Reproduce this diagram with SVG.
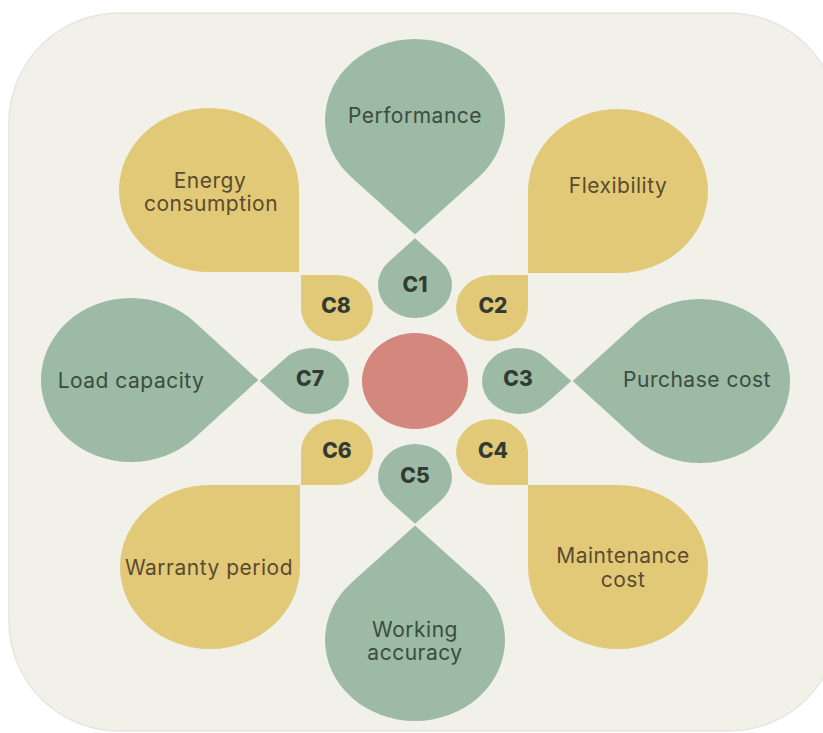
<svg xmlns="http://www.w3.org/2000/svg" width="823" height="733" viewBox="0 0 823 733">
<style>
.g{fill:#9cbaa4}
.y{fill:#e2c977}
.lg{font-family:Inter,"Liberation Sans",sans-serif;font-size:21px;letter-spacing:0.5px;fill:#3b4c41;text-anchor:middle}
.ly{font-family:Inter,"Liberation Sans",sans-serif;font-size:21px;letter-spacing:0.5px;fill:#5a4b2e;text-anchor:middle}
.c{font-family:Inter,"Liberation Sans",sans-serif;font-size:21px;font-weight:800;fill:#333a33;text-anchor:middle}
</style>
<rect width="823" height="733" fill="#ffffff"/>
<rect x="9" y="13" width="830" height="718" rx="110" ry="110" fill="#f1f1ea" stroke="#e6e6de" stroke-width="1.5"/>
<g id="center"><ellipse cx="415" cy="381" rx="53" ry="48" fill="#d4877c"/></g>
<g id="performance"><path class="g" d="M415,234.5 L478.6,177.3 A90,81 0 1 0 351.4,177.3 Z"/><text class="lg" x="415" y="123">Performance</text></g>
<g id="working-accuracy"><path class="g" d="M415,525.5 L351.4,582.7 A90,81 0 1 0 478.6,582.7 Z"/><text class="lg" x="415" y="637">Working</text><text class="lg" x="415" y="660">accuracy</text></g>
<g id="load-capacity"><path class="g" d="M258.3,380 L194.6,322 A90,82 0 1 0 194.6,438 Z"/><text class="lg" x="131" y="388">Load capacity</text></g>
<g id="purchase-cost"><path class="g" d="M572.7,381 L636.4,439 A90,82 0 1 0 636.4,323 Z"/><text class="lg" x="697" y="387">Purchase cost</text></g>
<g id="energy-consumption"><path class="y" d="M299,272 L299,190 A90,82 0 1 0 209,272 Z"/><text class="ly" x="210" y="188">Energy</text><text class="ly" x="211" y="211">consumption</text></g>
<g id="flexibility"><path class="y" d="M528,273 L618,273 A90,82 0 1 0 528,191 Z"/><text class="ly" x="618" y="193">Flexibility</text></g>
<g id="warranty-period"><path class="y" d="M300,485 L300,567 A90,82 0 1 1 210,485 Z"/><text class="ly" x="209" y="575">Warranty period</text></g>
<g id="maintenance-cost"><path class="y" d="M528,485 L618,485 A90,82 0 1 1 528,567 Z"/><text class="ly" x="623" y="563">Maintenance</text><text class="ly" x="623" y="587">cost</text></g>
<g id="c1"><path class="g" d="M415,238.3 L388.8,261.7 A37,33 0 1 0 441.2,261.7 Z"/><text class="c" x="415" y="292">C1</text></g>
<g id="c2"><path class="y" d="M528,275 L528,308 A36,33 0 1 1 492,275 Z"/><text class="c" x="493" y="313">C2</text></g>
<g id="c3"><path class="g" d="M571.3,381 L545.2,357.7 A37,33 0 1 0 545.2,404.3 Z"/><text class="c" x="518" y="386">C3</text></g>
<g id="c4"><path class="y" d="M528,485 L528,452 A36,33 0 1 0 492,485 Z"/><text class="c" x="493" y="458">C4</text></g>
<g id="c5"><path class="g" d="M415,523.7 L441.2,500.3 A37,33 0 1 0 388.8,500.3 Z"/><text class="c" x="415" y="483">C5</text></g>
<g id="c6"><path class="y" d="M301,485 L337,485 A36,33 0 1 0 301,452 Z"/><text class="c" x="337" y="458">C6</text></g>
<g id="c7"><path class="g" d="M259.7,381 L285.8,404.3 A37,33 0 1 0 285.8,357.7 Z"/><text class="c" x="310" y="386">C7</text></g>
<g id="c8"><path class="y" d="M301,275 L337,275 A36,33 0 1 1 301,308 Z"/><text class="c" x="336" y="313">C8</text></g>
<g id="connectors"></g>
</svg>
